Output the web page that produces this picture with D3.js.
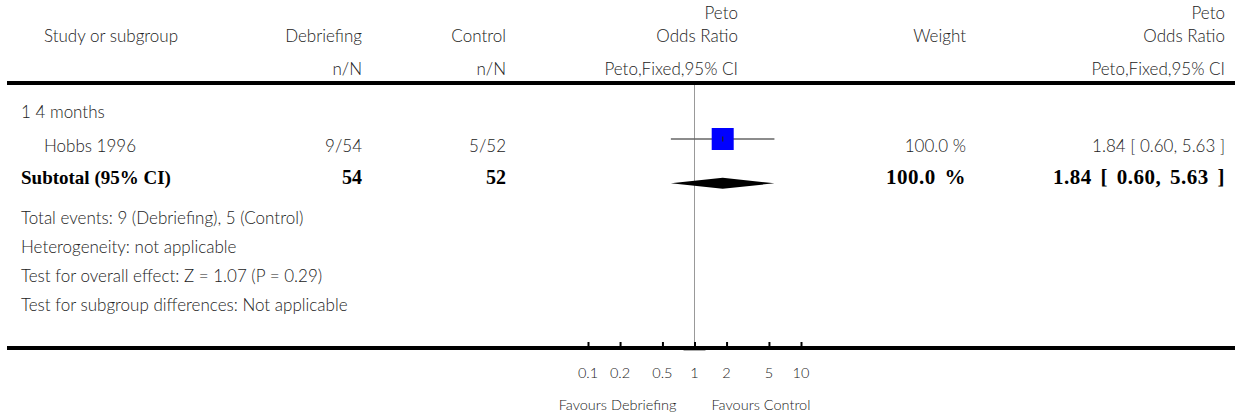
<!DOCTYPE html>
<html>
<head>
<meta charset="utf-8">
<script src="https://cdn.jsdelivr.net/npm/d3@7"></script>
<style>
  body { margin: 0; background: #fff; }
  text { font-family: Lato, "Open Sans", sans-serif; font-weight: 300; fill: #222; }
  .bold { font-family: "Liberation Serif", "DejaVu Serif", serif; font-weight: bold; fill: #000; }
</style>
</head>
<body>
<div class="vis-forest"></div>
<script>
// data
const groupLabel = "1 4 months";
const studies = ["Hobbs 1996"];
const expEvents = [9];
const expTotal = [54];
const ctrlEvents = [5];
const ctrlTotal = [52];
const weights = [100.0];
const oddsRatio = [1.84];
const ciLow = [0.60];
const ciHigh = [5.63];
const subtotal = { n1: 54, n2: 52, weight: 100.0, or: 1.84, lo: 0.60, hi: 5.63 };
const footnotes = [
    "Total events: 9 (Debriefing), 5 (Control)",
    "Heterogeneity: not applicable",
    "Test for overall effect: Z = 1.07 (P = 0.29)",
    "Test for subgroup differences: Not applicable"
];
const tickValues = [0.1, 0.2, 0.5, 1, 2, 5, 10];
const tickLabels = ["0.1", "0.2", "0.5", "1", "2", "5", "10"];

const draw = () => {
    const width = 1236, height = 417;
    const fmt = d3.format(".2f");

    let svg = d3.select('.vis-forest')
        .append('svg')
        .attr('width', width)
        .attr('height', height);

    let x = d3.scaleLog()
        .domain([0.1, 10])
        .range([588, 801]);

    const col = { study: 44, exp: 362, ctrl: 506, plot: 738, weight: 966, est: 1225 };
    const fs = 17;

    // header
    const header = svg.append('g');
    header.append('text').attr('x', col.study).attr('y', 42).text('Study or subgroup').style('font-size', fs);
    header.append('text').attr('x', col.exp).attr('y', 42).attr('text-anchor', 'end').text('Debriefing').style('font-size', fs);
    header.append('text').attr('x', col.ctrl).attr('y', 42).attr('text-anchor', 'end').text('Control').style('font-size', fs);
    header.append('text').attr('x', col.plot).attr('y', 19).attr('text-anchor', 'end').text('Peto').style('font-size', fs);
    header.append('text').attr('x', col.plot).attr('y', 42).attr('text-anchor', 'end').text('Odds Ratio').style('font-size', fs);
    header.append('text').attr('x', col.weight).attr('y', 42).attr('text-anchor', 'end').text('Weight').style('font-size', fs);
    header.append('text').attr('x', col.est).attr('y', 19).attr('text-anchor', 'end').text('Peto').style('font-size', fs);
    header.append('text').attr('x', col.est).attr('y', 42).attr('text-anchor', 'end').text('Odds Ratio').style('font-size', fs);
    header.append('text').attr('x', col.exp).attr('y', 75).attr('text-anchor', 'end').text('n/N').style('font-size', fs);
    header.append('text').attr('x', col.ctrl).attr('y', 75).attr('text-anchor', 'end').text('n/N').style('font-size', fs);
    header.append('text').attr('x', col.plot).attr('y', 75).attr('text-anchor', 'end').text('Peto,Fixed,95% CI').style('font-size', fs);
    header.append('text').attr('x', col.est).attr('y', 75).attr('text-anchor', 'end').text('Peto,Fixed,95% CI').style('font-size', fs);

    // rules
    svg.append('line').attr('x1', 7).attr('x2', 1235).attr('y1', 83).attr('y2', 83)
        .attr('stroke', '#000').attr('stroke-width', 4);
    svg.append('line').attr('x1', 7).attr('x2', 1235).attr('y1', 348).attr('y2', 348)
        .attr('stroke', '#000').attr('stroke-width', 4);

    // null line
    svg.append('line').attr('x1', x(1)).attr('x2', x(1)).attr('y1', 85).attr('y2', 346)
        .attr('stroke', '#999').attr('stroke-width', 1);
    svg.append('line').attr('x1', x(1) - 11).attr('x2', x(1) + 11).attr('y1', 350.5).attr('y2', 350.5)
        .attr('stroke', '#aaa').attr('stroke-width', 1);

    // group label
    svg.append('text').attr('x', 21).attr('y', 118).text(groupLabel).style('font-size', fs);

    // studies
    const rowY = i => 139 + i * 33;
    let rows = svg.selectAll('.study')
        .data(studies)
        .enter().append('g')
        .attr('class', 'study');

    rows.append('text').attr('x', col.study).attr('y', (d, i) => rowY(i) + 13).text(d => d).style('font-size', fs);
    rows.append('text').attr('x', col.exp).attr('y', (d, i) => rowY(i) + 13).attr('text-anchor', 'end')
        .text((d, i) => expEvents[i] + '/' + expTotal[i]).style('font-size', fs);
    rows.append('text').attr('x', col.ctrl).attr('y', (d, i) => rowY(i) + 13).attr('text-anchor', 'end')
        .text((d, i) => ctrlEvents[i] + '/' + ctrlTotal[i]).style('font-size', fs);
    rows.append('text').attr('x', col.weight).attr('y', (d, i) => rowY(i) + 13).attr('text-anchor', 'end')
        .text((d, i) => weights[i].toFixed(1) + ' %').style('font-size', fs);
    rows.append('text').attr('x', col.est).attr('y', (d, i) => rowY(i) + 13).attr('text-anchor', 'end')
        .text((d, i) => fmt(oddsRatio[i]) + ' [ ' + fmt(ciLow[i]) + ', ' + fmt(ciHigh[i]) + ' ]').style('font-size', fs);

    rows.append('line')
        .attr('x1', (d, i) => x(ciLow[i])).attr('x2', (d, i) => x(ciHigh[i]))
        .attr('y1', (d, i) => rowY(i)).attr('y2', (d, i) => rowY(i))
        .attr('stroke', '#666').attr('stroke-width', 1.5);
    const side = w => 22 * Math.sqrt(w / 100);
    rows.append('rect')
        .attr('x', (d, i) => x(oddsRatio[i]) - side(weights[i]) / 2)
        .attr('y', (d, i) => rowY(i) - side(weights[i]) / 2)
        .attr('width', (d, i) => side(weights[i]))
        .attr('height', (d, i) => side(weights[i]))
        .attr('fill', '#0000ff');
    rows.append('line')
        .attr('x1', (d, i) => x(oddsRatio[i])).attr('x2', (d, i) => x(oddsRatio[i]))
        .attr('y1', (d, i) => rowY(i) - 2.5).attr('y2', (d, i) => rowY(i) + 2.5)
        .attr('stroke', '#222').attr('stroke-width', 1.2);

    // subtotal
    const sy = 184;
    const bfs = 19, nfs = 21;
    svg.append('text').attr('class', 'bold').attr('x', 21).attr('y', sy).text('Subtotal (95% CI)').style('font-size', bfs);
    svg.append('text').attr('class', 'bold').attr('x', col.exp).attr('y', sy).attr('text-anchor', 'end').text(subtotal.n1).style('font-size', bfs + 1);
    svg.append('text').attr('class', 'bold').attr('x', col.ctrl).attr('y', sy).attr('text-anchor', 'end').text(subtotal.n2).style('font-size', bfs + 1);
    svg.append('text').attr('class', 'bold').attr('x', col.weight).attr('y', sy).attr('text-anchor', 'end')
        .text(subtotal.weight.toFixed(1) + ' %').style('font-size', nfs)
        .style('word-spacing', '3px').style('letter-spacing', '0.5px');
    svg.append('text').attr('class', 'bold').attr('x', col.est).attr('y', sy).attr('text-anchor', 'end')
        .text(fmt(subtotal.or) + ' [ ' + fmt(subtotal.lo) + ', ' + fmt(subtotal.hi) + ' ]')
        .style('font-size', nfs).style('word-spacing', '3px').style('letter-spacing', '0.5px');

    const dy = 183.3;
    svg.append('path')
        .attr('d', d3.line()([[x(subtotal.lo), dy], [x(subtotal.or), dy - 5.5], [x(subtotal.hi), dy], [x(subtotal.or), dy + 5.5]]) + 'Z')
        .attr('fill', '#000');

    // footnotes
    svg.selectAll('.foot')
        .data(footnotes)
        .enter().append('text')
        .attr('class', 'foot')
        .attr('x', 21)
        .attr('y', (d, i) => 224 + i * 29)
        .text(d => d)
        .style('font-size', fs);

    // axis
    let axis = d3.axisTop(x)
        .tickValues(tickValues)
        .tickFormat('')
        .tickSize(5)
        .tickSizeOuter(0);
    let ag = svg.append('g')
        .attr('transform', 'translate(0,347)')
        .call(axis);
    ag.select('.domain').remove();
    ag.selectAll('.tick line').attr('stroke', '#000').attr('stroke-width', 2);

    svg.selectAll('.ticklabel')
        .data(tickValues)
        .enter().append('text')
        .attr('class', 'ticklabel')
        .attr('x', d => x(d))
        .attr('y', 378)
        .attr('text-anchor', 'middle')
        .text((d, i) => tickLabels[i])
        .style('font-size', 14.5);

    svg.append('text').attr('x', x(1) - 18).attr('y', 410).attr('text-anchor', 'end').text('Favours Debriefing').style('font-size', 14.5);
    svg.append('text').attr('x', x(1) + 17).attr('y', 410).text('Favours Control').style('font-size', 14.5);
}

draw();
</script>
</body>
</html>
